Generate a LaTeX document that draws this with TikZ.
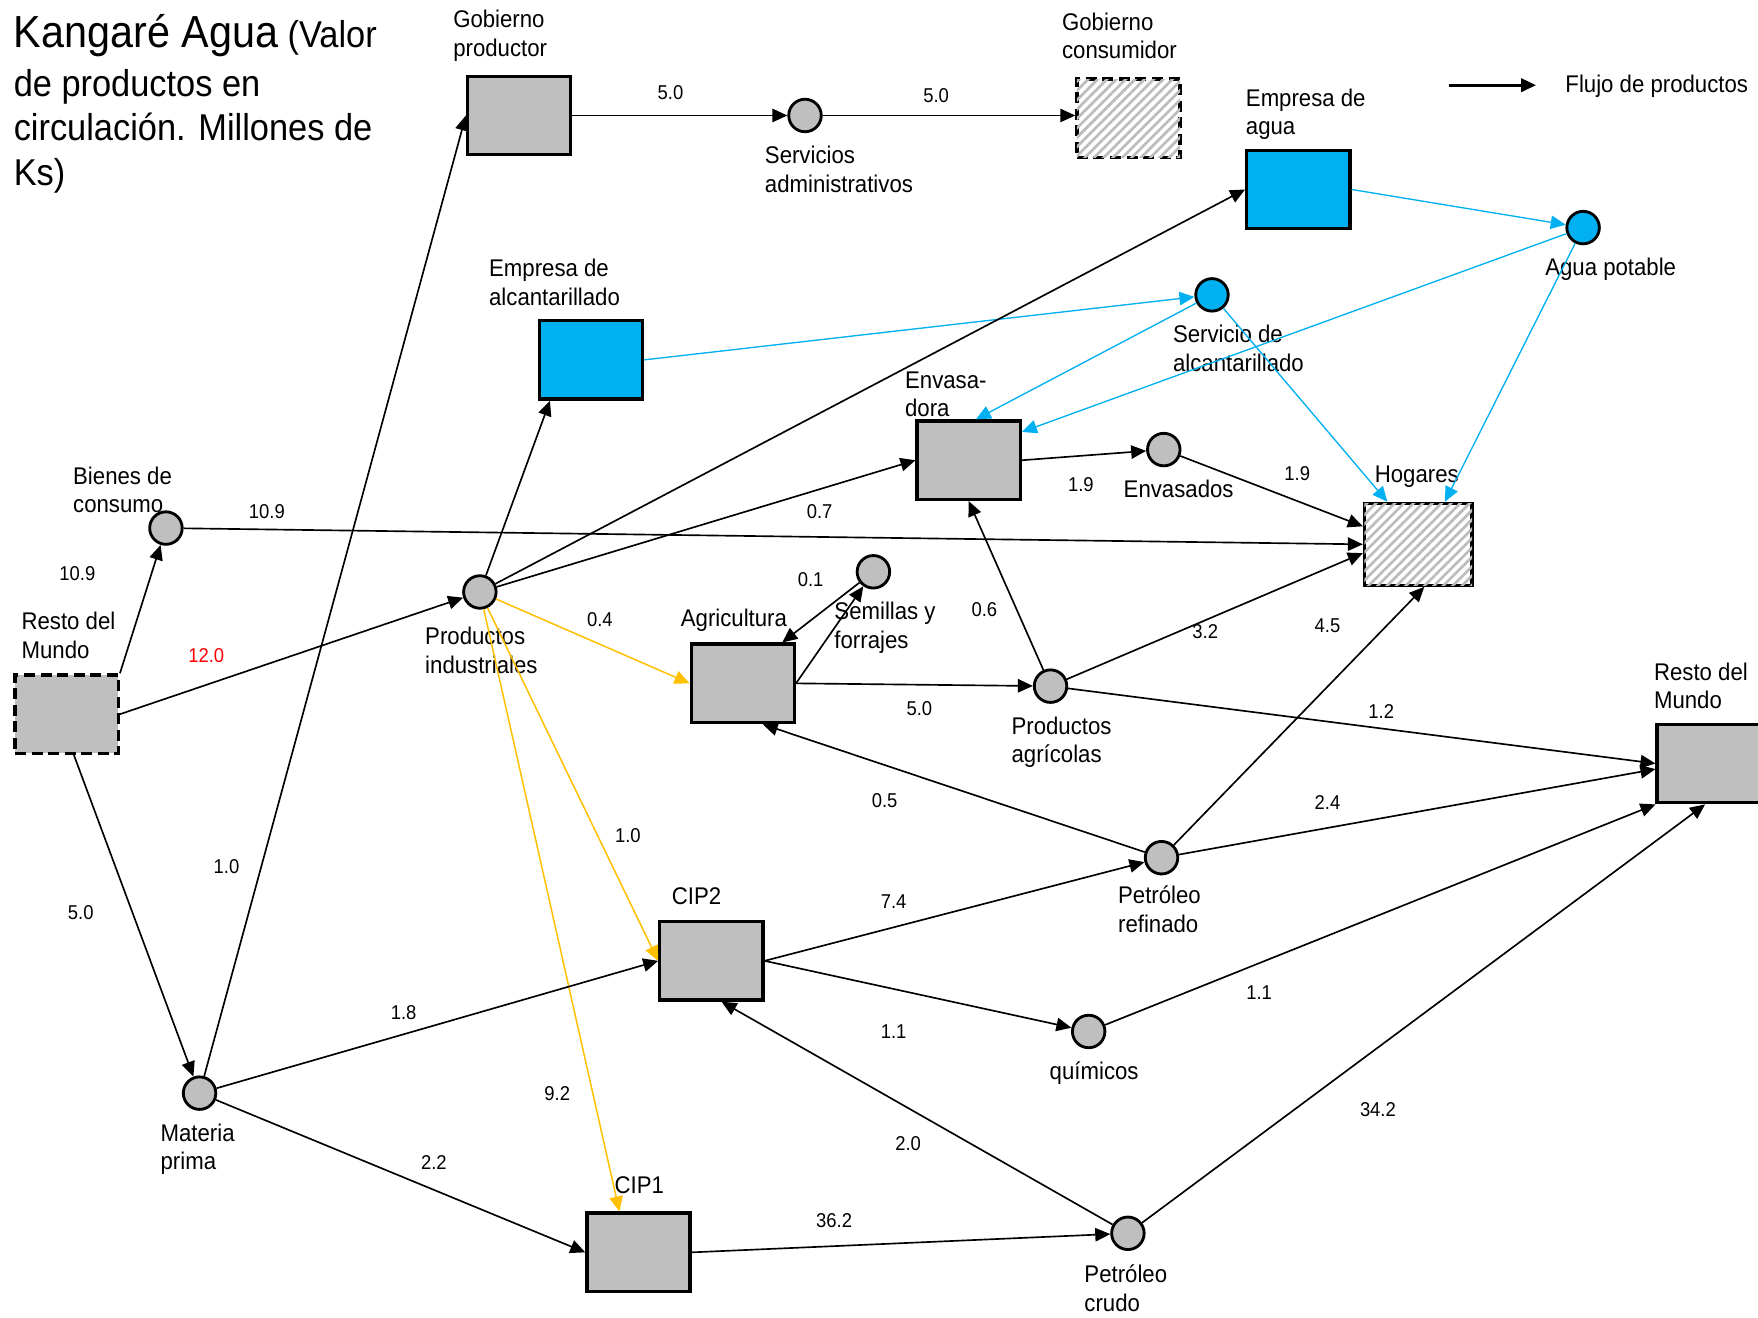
\documentclass[tikz,border=0pt]{standalone}
\usepackage{fontspec}
\setmainfont[FakeStretch=0.92]{Liberation Sans}
\usetikzlibrary{arrows.meta,patterns.meta}
\definecolor{wblue}{HTML}{00B0F0}
\definecolor{wyel}{HTML}{FFC000}
\definecolor{boxgray}{HTML}{BFBFBF}
\definecolor{hatchgray}{HTML}{BCBCBC}
\newcommand\lblfont{\fontsize{15.3}{18.1}\selectfont}
\newcommand\numfont{\fontsize{12.7}{15}\selectfont}
\newcommand\ttlbig{\fontsize{28.5}{28.5}\selectfont}
\newcommand\ttlsmall{\fontsize{23.7}{28.5}\selectfont}
\begin{document}
\begin{tikzpicture}[x=0.025cm,y=-0.025cm,
  box/.style={draw=black, line width=2.1pt, fill=boxgray, minimum width=92*0.025cm, minimum height=70*0.025cm, inner sep=0pt},
  bluebox/.style={box, fill=wblue},
  dashbox/.style={box, dash pattern=on 7pt off 3.5pt},
  hatchfill/.style={fill=white, postaction={pattern={Lines[angle=45,distance=4.2pt,line width=1.7pt]}, pattern color=hatchgray}},
  hatchbox/.style={box, hatchfill},
  dot/.style={circle, draw=black, line width=1.8pt, fill=boxgray, minimum size=29*0.025cm, inner sep=0pt},
  bluedot/.style={dot, fill=wblue},
  lbl/.style={anchor=north west, inner sep=0pt, align=left, font=\lblfont},
  num/.style={inner sep=0pt, font=\numfont},
  flow/.style={-{Triangle[length=9.5pt,width=8.5pt]}, line width=1.05pt, draw=black},
  bflow/.style={flow, draw=wblue, line width=0.85pt},
  yflow/.style={flow, draw=wyel, line width=0.95pt}
]
\useasboundingbox (0,0) rectangle (1568,1175);

% title
\node[anchor=north west, inner sep=0pt, align=left, font=\ttlsmall] (title) at (12,13)
  {{\ttlbig Kangaré Agua} (Valor\\[2pt] de productos en\\ circulación. Millones de\\ Ks)};

% boxes
\node[box]      (gp)   at (463,103) {};
\node[dashbox, hatchfill] (gc) at (1006.5,105.5) {};
\node[bluebox]  (ea)   at (1158,169) {};
\node[bluebox]  (eal)  at (527,321) {};
\node[box]      (env)  at (864,410.5) {};
\node[hatchbox, minimum width=96*0.025cm, minimum height=73*0.025cm] (hog) at (1265,485.5) {};
\node[box]      (agr)  at (662.5,609.5) {};
\node[dashbox]  (rml)  at (59.5,637) {};
\node[box]      (rmr)  at (1524,681) {};
\node[box]      (cip2) at (634.5,857) {};
\node[box]      (cip1) at (569.5,1117) {};

% circles
\node[dot]     (sa)  at (718,103) {};
\node[bluedot] (ap)  at (1412,203) {};
\node[bluedot] (sal) at (1081,263) {};
\node[dot]     (evs) at (1038,401) {};
\node[dot]     (bc)  at (148,471) {};
\node[dot]     (pi)  at (428,528) {};
\node[dot]     (sf)  at (779,510) {};
\node[dot]     (pa)  at (937,612) {};
\node[dot]     (pr)  at (1036,765) {};
\node[dot]     (qu)  at (971,920) {};
\node[dot]     (mp)  at (178,975) {};
\node[dot]     (pc)  at (1006,1100) {};

% labels
\node[lbl] (l-gp)   at (404,9)    {Gobierno\\productor};
\node[lbl] (l-gc)   at (947,11)   {Gobierno\\consumidor};
\node[lbl] (l-sa)   at (682,130)  {Servicios\\administrativos};
\node[lbl] (l-ea)   at (1111,79)  {Empresa de\\agua};
\node[lbl] (l-ap)   at (1378,230) {Agua potable};
\node[lbl] (l-eal)  at (436,231)  {Empresa de\\alcantarillado};
\node[lbl] (l-sal)  at (1046,290) {Servicio de\\alcantarillado};
\node[lbl] (l-env)  at (807,331)  {Envasa-\\dora};
\node[lbl] (l-evs)  at (1002,428) {Envasados};
\node[lbl] (l-hog)  at (1226,415) {Hogares};
\node[lbl] (l-bc)   at (65,416)   {Bienes de\\consumo};
\node[lbl] (l-rml)  at (19,546)   {Resto del\\Mundo};
\node[lbl] (l-pi)   at (379,559)  {Productos\\industriales};
\node[lbl] (l-agr)  at (607,543)  {Agricultura};
\node[lbl] (l-sf)   at (744,537)  {Semillas y\\forrajes};
\node[lbl] (l-pa)   at (902,639)  {Productos\\agrícolas};
\node[lbl] (l-rmr)  at (1475,591) {Resto del\\Mundo};
\node[lbl] (l-pr)   at (997,790)  {Petróleo\\refinado};
\node[lbl] (l-cip2) at (599,791)  {CIP2};
\node[lbl] (l-qu)   at (936,947)  {químicos};
\node[lbl] (l-mp)   at (143,1002) {Materia\\prima};
\node[lbl] (l-cip1) at (548,1049) {CIP1};
\node[lbl] (l-pc)   at (967,1128) {Petróleo\\crudo};

% legend
\coordinate (lg1) at (1292,76);
\coordinate (lg2) at (1370,76);
\draw[flow, line width=1.8pt] (lg1) -- (lg2);
\node[lbl, anchor=west] (l-lg) at (1396,77) {Flujo de productos};

% blue flows
\draw[bflow] (ea.east) -- (ap);
\draw[bflow] (ap) -- (env.28);
\draw[bflow] (ap) -- (hog.58);
\draw[bflow] (eal.east) -- (sal);
\draw[bflow] (sal) -- (env.80);
\draw[bflow] (sal) -- (hog.126);

% yellow flows
\draw[yflow] (pi) -- (agr.west);
\draw[yflow] (pi) -- (cip2.west);
\draw[yflow] (pi) -- (cip1.115);

% black flows
\draw[flow] (gp) -- (sa);
\draw[flow] (sa) -- (sa -| gc.west);
\draw[flow] (pi) -- (ea.west);
\draw[flow] (pi) -- (env.west);
\draw[flow] (pi) -- (eal.225);
\draw[flow] (rml.east) -- (pi);
\draw[flow] (rml.north east) -- (bc);
\draw[flow] (bc) -- (hog.west);
\draw[flow] (rml.-80) -- (mp);
\draw[flow] (mp) -- (gp.west);
\draw[flow] (mp) -- (cip2.west);
\draw[flow] (mp) -- (cip1.west);
\draw[flow] (env.east) -- (evs);
\draw[flow] (evs) -- (hog.162);
\draw[flow] (sf) -- (agr.46);
\draw[flow] (agr.east) -- (sf);
\draw[flow] (agr.east) -- (pa);
\draw[flow] (pa) -- (env.south);
\draw[flow] (pa) -- (hog.189);
\draw[flow] (pa) -- (rmr.west);
\draw[flow] (pr) -- (agr.-64);
\draw[flow] (pr) -- (hog.-82);
\draw[flow] (pr) -- (rmr.186);
\draw[flow] (cip2.east) -- (pr);
\draw[flow] (cip2.east) -- (qu);
\draw[flow] (qu) -- (rmr.south west);
\draw[flow] (pc) -- (cip2.-76);
\draw[flow] (cip1.east) -- (pc);
\draw[flow] (pc) -- (rmr.-95);

% flow values
\node[num] (n1)  at (598,83)   {5.0};
\node[num] (n2)  at (835,85)   {5.0};
\node[num] (n3)  at (731,456)  {0.7};
\node[num] (n4)  at (535,553)  {0.4};
\node[num] (n5)  at (560,745)  {1.0};
\node[num] (n6)  at (497,975)  {9.2};
\node[num, text=red] (n7) at (184,585) {12.0};
\node[num] (n8)  at (69,512)   {10.9};
\node[num] (n9)  at (238,456)  {10.9};
\node[num] (n10) at (72,814)   {5.0};
\node[num] (n11) at (202,773)  {1.0};
\node[num] (n12) at (360,903)  {1.8};
\node[num] (n13) at (387,1037) {2.2};
\node[num] (n14) at (964,432)  {1.9};
\node[num] (n15) at (1157,422) {1.9};
\node[num] (n16) at (723,517)  {0.1};
\node[num] (n17) at (820,632)  {5.0};
\node[num] (n18) at (878,544)  {0.6};
\node[num] (n19) at (1075,563) {3.2};
\node[num] (n20) at (1232,635) {1.2};
\node[num] (n21) at (789,714)  {0.5};
\node[num] (n22) at (1184,558) {4.5};
\node[num] (n23) at (1184,716) {2.4};
\node[num] (n24) at (797,804)  {7.4};
\node[num] (n25) at (797,920)  {1.1};
\node[num] (n26) at (1123,885) {1.1};
\node[num] (n27) at (810,1020) {2.0};
\node[num] (n28) at (744,1089) {36.2};
\node[num] (n29) at (1229,990) {34.2};
\end{tikzpicture}
\end{document}
